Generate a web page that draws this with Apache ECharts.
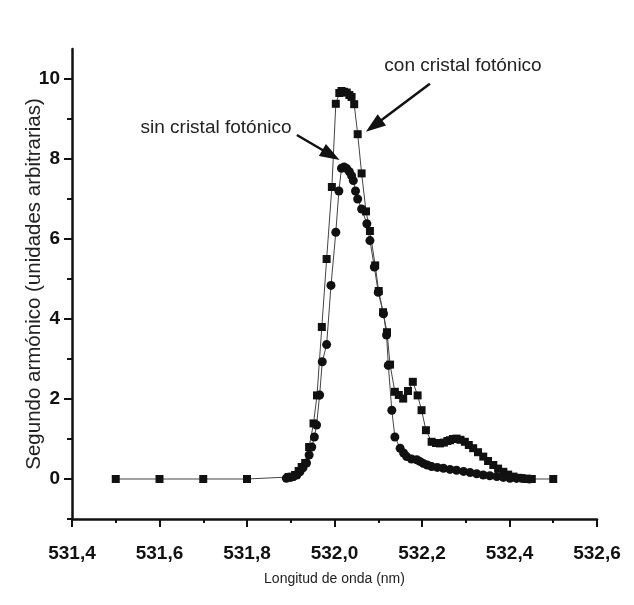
<!DOCTYPE html>
<html><head><meta charset="utf-8">
<script src="https://cdn.jsdelivr.net/npm/echarts@6/dist/echarts.min.js"></script>
<style>html,body{margin:0;padding:0;background:#fff}#c{width:634px;height:605px}</style>
</head><body><div id="c"></div>
<script>
// con cristal fotónico (squares): [wavelength nm, intensity]
const conCristal = [
[531.5,0],[531.6,0],[531.7,0],[531.8,0],
[531.895,0.05],[531.902,0.06],[531.91,0.1],[531.918,0.2],[531.925,0.3],[531.933,0.4],
[531.942,0.8],[531.952,1.39],[531.96,2.09],[531.971,3.8],[531.982,5.5],[531.994,7.3],
[532.003,9.38],[532.011,9.65],[532.016,9.7],[532.022,9.68],[532.028,9.66],[532.034,9.6],
[532.039,9.55],[532.045,9.37],[532.053,8.62],[532.062,7.64],[532.072,6.69],[532.081,6.2],
[532.093,5.34],[532.101,4.7],[532.111,4.17],[532.12,3.67],[532.127,2.86],[532.138,2.18],
[532.147,2.1],[532.157,2.01],[532.168,2.2],[532.179,2.43],[532.19,2.09],[532.199,1.72],
[532.209,1.22],[532.222,0.93],[532.232,0.9],[532.241,0.89],[532.25,0.91],[532.258,0.95],
[532.264,0.97],[532.271,1.0],[532.279,1.01],[532.288,0.98],[532.298,0.93],[532.307,0.85],
[532.317,0.77],[532.328,0.67],[532.34,0.56],[532.351,0.45],[532.363,0.35],[532.374,0.26],
[532.386,0.18],[532.397,0.11],[532.409,0.06],[532.42,0.03],[532.432,0.01],[532.441,0],
[532.451,0],[532.5,0]
];
// sin cristal fotónico (circles)
const sinCristal = [
[531.89,0.02],[531.9,0.04],[531.906,0.06],[531.914,0.1],[531.921,0.18],[531.928,0.28],
[531.936,0.4],[531.942,0.6],[531.948,0.8],[531.954,1.05],[531.959,1.35],[531.966,2.1],
[531.972,2.93],[531.982,3.36],[531.992,4.84],[532.003,6.17],[532.01,7.2],[532.016,7.77],
[532.022,7.8],[532.028,7.76],[532.034,7.68],[532.039,7.58],[532.043,7.46],[532.048,7.2],
[532.053,7.0],[532.062,6.75],[532.074,6.38],[532.081,5.96],[532.091,5.3],[532.1,4.67],
[532.112,4.13],[532.119,3.6],[532.123,2.84],[532.131,1.72],[532.138,1.05],[532.15,0.77],
[532.158,0.65],[532.165,0.56],[532.176,0.5],[532.188,0.48],[532.195,0.44],[532.203,0.39],
[532.212,0.35],[532.222,0.31],[532.235,0.29],[532.249,0.27],[532.264,0.24],[532.279,0.22],
[532.295,0.19],[532.31,0.16],[532.325,0.13],[532.34,0.1],[532.355,0.08],[532.371,0.06],
[532.386,0.04],[532.401,0.02],[532.416,0.015],[532.432,0.01],[532.445,0]
];
const yMajorTicks = [0,2,4,6,8,10];
const yMinorTicks = [-1,1,3,5,7,9];
const arrowCon = [[532.218,9.88],[532.09,8.83]];
const arrowSin = [[531.914,8.6],[531.992,8.1]];
const labelCon = 'con cristal fotónico';
const labelSin = 'sin cristal fotónico';
const xTitle = 'Longitud de onda (nm)';
const yTitle = 'Segundo armónico (unidades arbitrarias)';

const FONT = '"Liberation Sans", Arial, sans-serif';
const chart = echarts.init(document.getElementById('c'), null, {renderer:'canvas'});
const axisLineStyle = {color:'#111', width:2.5};
const arrowMarkLine = (pts) => ({
  silent:true, animation:false, label:{show:false},
  symbol:['none','triangle'], symbolSize:[14,20],
  lineStyle:{color:'#111', width:2.5, type:'solid'},
  itemStyle:{color:'#111'},
  emphasis:{disabled:true},
  data:[[{coord:pts[0]},{coord:pts[1]}]]
});
chart.setOption({
  animation:false,
  backgroundColor:'#fff',
  grid:{left:72, right:37, top:49, bottom:86},
  xAxis:{
    type:'value', min:531.4, max:532.6, interval:0.2,
    name:xTitle, nameLocation:'middle', nameGap:53, nameMoveOverlap:false,
    nameTextStyle:{fontFamily:FONT, fontSize:14, color:'#222'},
    axisLine:{show:true, onZero:false, lineStyle:axisLineStyle},
    axisTick:{show:true, length:8, lineStyle:{color:'#111', width:2}},
    minorTick:{show:true, splitNumber:2, length:4, lineStyle:{color:'#111', width:2}},
    splitLine:{show:false},
    axisLabel:{margin:25, fontFamily:FONT, fontSize:19, fontWeight:'bold', color:'#111',
      formatter:v=>v.toFixed(1).replace('.',',')}
  },
  yAxis:[{
    type:'value', min:-1, max:10.75, interval:1,
    name:yTitle, nameLocation:'middle', nameGap:27, nameMoveOverlap:false,
    nameTextStyle:{fontFamily:FONT, fontSize:20.5, color:'#222'},
    axisLine:{show:true, onZero:false, lineStyle:axisLineStyle},
    axisTick:{show:true, length:8, customValues:yMajorTicks, lineStyle:{color:'#111', width:2}},
    splitLine:{show:false},
    axisLabel:{margin:12, fontFamily:FONT, fontSize:19, fontWeight:'bold', color:'#111',
      customValues:yMajorTicks, formatter:v=>String(v)}
  },{
    type:'value', min:-1, max:10.75, interval:1, position:'left', offset:0,
    axisLine:{show:false},
    axisTick:{show:true, length:5, customValues:yMinorTicks, lineStyle:{color:'#111', width:2}},
    axisLabel:{show:false}, splitLine:{show:false}
  }],
  series:[{
    type:'line', name:labelCon, data:conCristal, symbol:'rect', symbolSize:8,
    itemStyle:{color:'#111'}, lineStyle:{color:'#444', width:1},
    markLine:arrowMarkLine(arrowCon)
  },{
    type:'line', name:labelSin, data:sinCristal, symbol:'circle', symbolSize:9,
    itemStyle:{color:'#111'}, lineStyle:{color:'#444', width:1},
    markLine:arrowMarkLine(arrowSin)
  }],
  graphic:[
    {type:'text', x:463, y:66, style:{text:labelCon, font:'19px '+FONT, fill:'#222', align:'center', verticalAlign:'middle'}},
    {type:'text', x:216, y:128, style:{text:labelSin, font:'19px '+FONT, fill:'#222', align:'center', verticalAlign:'middle'}}
  ]
});
</script></body></html>
